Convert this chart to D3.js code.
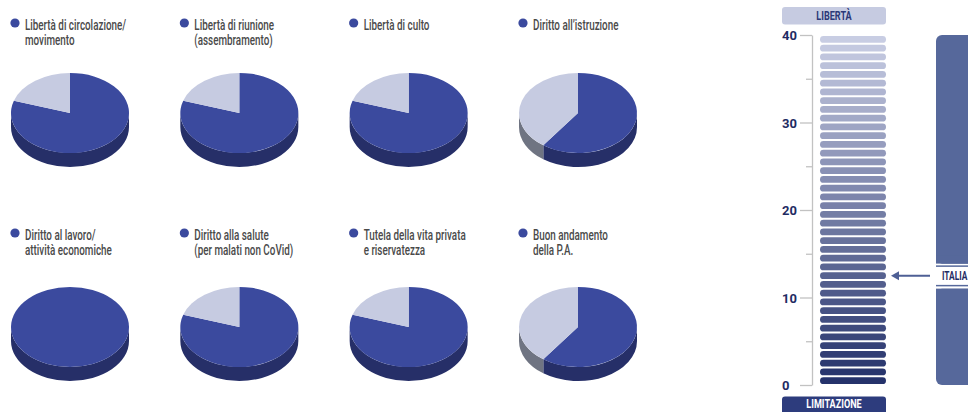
<!DOCTYPE html>
<html>
<head>
<meta charset="utf-8">
<script src="https://cdn.jsdelivr.net/npm/d3@7"></script>
<style>
  html, body { margin: 0; padding: 0; background: #ffffff; }
  svg { display: block; }
</style>
</head>
<body>
<svg id="chart" width="968" height="412"></svg>
<script>
// ---- data -------------------------------------------------------------
// Rights examined, each with a limitation score out of 5
const rightsLabels = [
  ["Libertà di circolazione/", "movimento"],
  ["Libertà di riunione", "(assembramento)"],
  ["Libertà di culto"],
  ["Diritto all’istruzione"],
  ["Diritto al lavoro/", "attività economiche"],
  ["Diritto alla salute", "(per malati non CoVid)"],
  ["Tutela della vita privata", "e riservatezza"],
  ["Buon andamento", "della P.A."]
];
const limitedScores = [4, 4, 4, 3, 5, 4, 4, 3];
const maxScore = 5;

// Overall index scale (0 = limitation, 40 = freedom)
const indexTicks = [0, 10, 20, 30, 40];
const indexMinorTicks = [5, 15, 25, 35];
const indexMax = 40;
const italyScore = 12.5;
const topLabel = "LIBERTÀ";
const bottomLabel = "LIMITAZIONE";
const countryLabel = "ITALIA";

// ---- styles -----------------------------------------------------------
const BLUE = "#3b4a9e";
const BLUE_SIDE = "#262f68";
const LIGHT = "#c6cbe1";
const LIGHT_SIDE = "#6f7482";
const TEXT = "#4a4a4a";
const NAVY = "#1f2b63";
const SLATE = "#56689b";
const CONDENSE = 0.68;

const svg = d3.select("#chart");

// ---- pies -------------------------------------------------------------
const colX = d3.scaleLinear().domain([0, 3]).range([70, 578]);
const pieRowY = [113, 327];
const legendRowY = [23, 233];
const RX = 59, RY = 40, DEPTH = 14;

const pie = d3.pie().sort(null).value(d => d.value);

function ellPoint(cx, cy, a, dy = 0) {
  return [cx + RX * Math.sin(a), cy - RY * Math.cos(a) + dy];
}

function topPath(cx, cy, a0, a1) {
  if (a1 - a0 >= 2 * Math.PI - 1e-6) {
    return `M${cx - RX},${cy} A${RX},${RY} 0 1 1 ${cx + RX},${cy} A${RX},${RY} 0 1 1 ${cx - RX},${cy} Z`;
  }
  const p0 = ellPoint(cx, cy, a0), p1 = ellPoint(cx, cy, a1);
  const large = (a1 - a0) > Math.PI ? 1 : 0;
  return `M${cx},${cy} L${p0} A${RX},${RY} 0 ${large} 1 ${p1} Z`;
}

function sidePath(cx, cy, a0, a1) {
  const s0 = Math.max(a0, Math.PI / 2), s1 = Math.min(a1, 3 * Math.PI / 2);
  if (s1 <= s0) return null;
  const p0 = ellPoint(cx, cy, s0), p1 = ellPoint(cx, cy, s1);
  const q0 = ellPoint(cx, cy, s0, DEPTH), q1 = ellPoint(cx, cy, s1, DEPTH);
  return `M${p0} A${RX},${RY} 0 0 1 ${p1} L${q1} A${RX},${RY} 0 0 0 ${q0} Z`;
}

rightsLabels.forEach((lines, i) => {
  const col = i % 4, row = Math.floor(i / 4);
  const cx = colX(col), cy = pieRowY[row];
  const lx = cx - 55, ly = legendRowY[row];

  // legend
  const lg = svg.append("g").attr("class", "legend");
  lg.append("circle").attr("cx", lx).attr("cy", ly).attr("r", 4.6).attr("fill", BLUE);
  const tg = lg.append("g").attr("transform", `translate(${lx + 10},0) scale(${CONDENSE},1)`);
  lines.forEach((t, k) => {
    tg.append("text")
      .attr("x", 0).attr("y", ly + 6.8 + k * 15.5)
      .attr("font-family", "Roboto, 'Open Sans', sans-serif")
      .attr("font-size", 14.5)
      .attr("font-weight", 500)
      .attr("fill", TEXT)
      .text(t);
  });

  // 3D pie
  const slices = pie([
    { key: "limited", value: limitedScores[i], top: BLUE, side: BLUE_SIDE },
    { key: "free", value: maxScore - limitedScores[i], top: LIGHT, side: LIGHT_SIDE }
  ]).filter(s => s.data.value > 0);

  const pg = svg.append("g").attr("class", "pie");
  slices.forEach(s => {
    const d = sidePath(cx, cy, s.startAngle, s.endAngle);
    if (d) pg.append("path").attr("d", d).attr("fill", s.data.side);
  });
  slices.forEach(s => {
    pg.append("path").attr("d", topPath(cx, cy, s.startAngle, s.endAngle)).attr("fill", s.data.top);
  });
});

// ---- index scale ------------------------------------------------------
const y = d3.scaleLinear().domain([0, indexMax]).range([385, 35]);
const axisX = 812, barX0 = 820, barX1 = 886, boxX0 = 782;

const barColor = d3.interpolateRgb("#25326b", "#c8cde3");
const levels = d3.range(indexMax);

svg.append("g").attr("class", "levels")
  .selectAll("rect").data(levels).join("rect")
  .attr("x", barX0)
  .attr("y", d => y(d + 1) + 0.9)
  .attr("width", barX1 - barX0)
  .attr("height", d => y(d) - y(d + 1) - 1.8)
  .attr("rx", 3.5)
  .attr("fill", d => barColor(d / (indexMax - 1)));

// axis
const axisG = svg.append("g").attr("class", "axis").attr("transform", `translate(${axisX},0)`);
axisG.call(d3.axisLeft(y).tickValues(indexTicks.concat(indexMinorTicks)).tickSize(0).tickFormat(""));
axisG.select(".domain").attr("stroke", "#c2c2c2").attr("stroke-width", 1.3);
axisG.selectAll(".tick").each(function (d) {
  const major = indexTicks.includes(d);
  d3.select(this).append("line")
    .attr("x1", major ? -12 : -6).attr("x2", 0)
    .attr("stroke", "#c2c2c2").attr("stroke-width", 1.3);
  if (major) {
    d3.select(this).append("text")
      .attr("x", boxX0 - axisX).attr("dy", "0.36em")
      .attr("text-anchor", "start")
      .attr("font-family", "Roboto, sans-serif")
      .attr("font-weight", 700)
      .attr("font-size", 13)
      .attr("fill", NAVY)
      .text(d);
  }
});

// end labels
function endLabel(txt, top, baseline, fill, color) {
  svg.append("rect").attr("x", boxX0).attr("y", top)
    .attr("width", barX1 - boxX0).attr("height", 17.5).attr("rx", 3).attr("fill", fill);
  const cxm = (boxX0 + barX1) / 2;
  svg.append("g").attr("transform", `translate(${cxm},0) scale(0.76,1)`)
    .append("text").attr("x", 0).attr("y", top + baseline)
    .attr("text-anchor", "middle")
    .attr("font-family", "Roboto, sans-serif").attr("font-weight", 700)
    .attr("font-size", 12).attr("fill", color).text(txt);
}
endLabel(topLabel, 7, 13, "#c6cbe1", "#2a3878");
endLabel(bottomLabel, 396.5, 12, "#2d3c7d", "#ffffff");

// country panel
const yIt = y(italyScore);
const panelX = 936;
svg.append("rect").attr("x", panelX).attr("y", y(indexMax)).attr("width", 60)
  .attr("height", (yIt - 12) - y(indexMax)).attr("rx", 6).attr("fill", SLATE);
svg.append("rect").attr("x", panelX).attr("y", yIt + 13).attr("width", 60)
  .attr("height", y(0) - (yIt + 13)).attr("rx", 6).attr("fill", SLATE);
svg.append("rect").attr("x", panelX).attr("y", yIt - 20).attr("width", 60)
  .attr("height", 8).attr("fill", SLATE);
svg.append("rect").attr("x", panelX).attr("y", yIt + 13).attr("width", 60)
  .attr("height", 8).attr("fill", SLATE);
[yIt - 9.5, yIt + 10].forEach(ly => {
  svg.append("line").attr("x1", panelX).attr("x2", 968).attr("y1", ly).attr("y2", ly)
    .attr("stroke", SLATE).attr("stroke-width", 1.5);
});
svg.append("g").attr("transform", `translate(${panelX + 6},0) scale(0.7,1)`)
  .append("text").attr("x", 0).attr("y", yIt + 4.5)
  .attr("font-family", "Roboto, sans-serif").attr("font-weight", 700)
  .attr("font-size", 12).attr("fill", NAVY).text(countryLabel);

// arrow pointing to Italy's level
svg.append("line").attr("x1", 930).attr("x2", 897).attr("y1", yIt).attr("y2", yIt)
  .attr("stroke", "#4e5f95").attr("stroke-width", 2);
svg.append("path")
  .attr("d", `M891,${yIt} L899,${yIt - 4.5} L899,${yIt + 4.5} Z`)
  .attr("fill", "#4e5f95");
</script>
</body>
</html>
